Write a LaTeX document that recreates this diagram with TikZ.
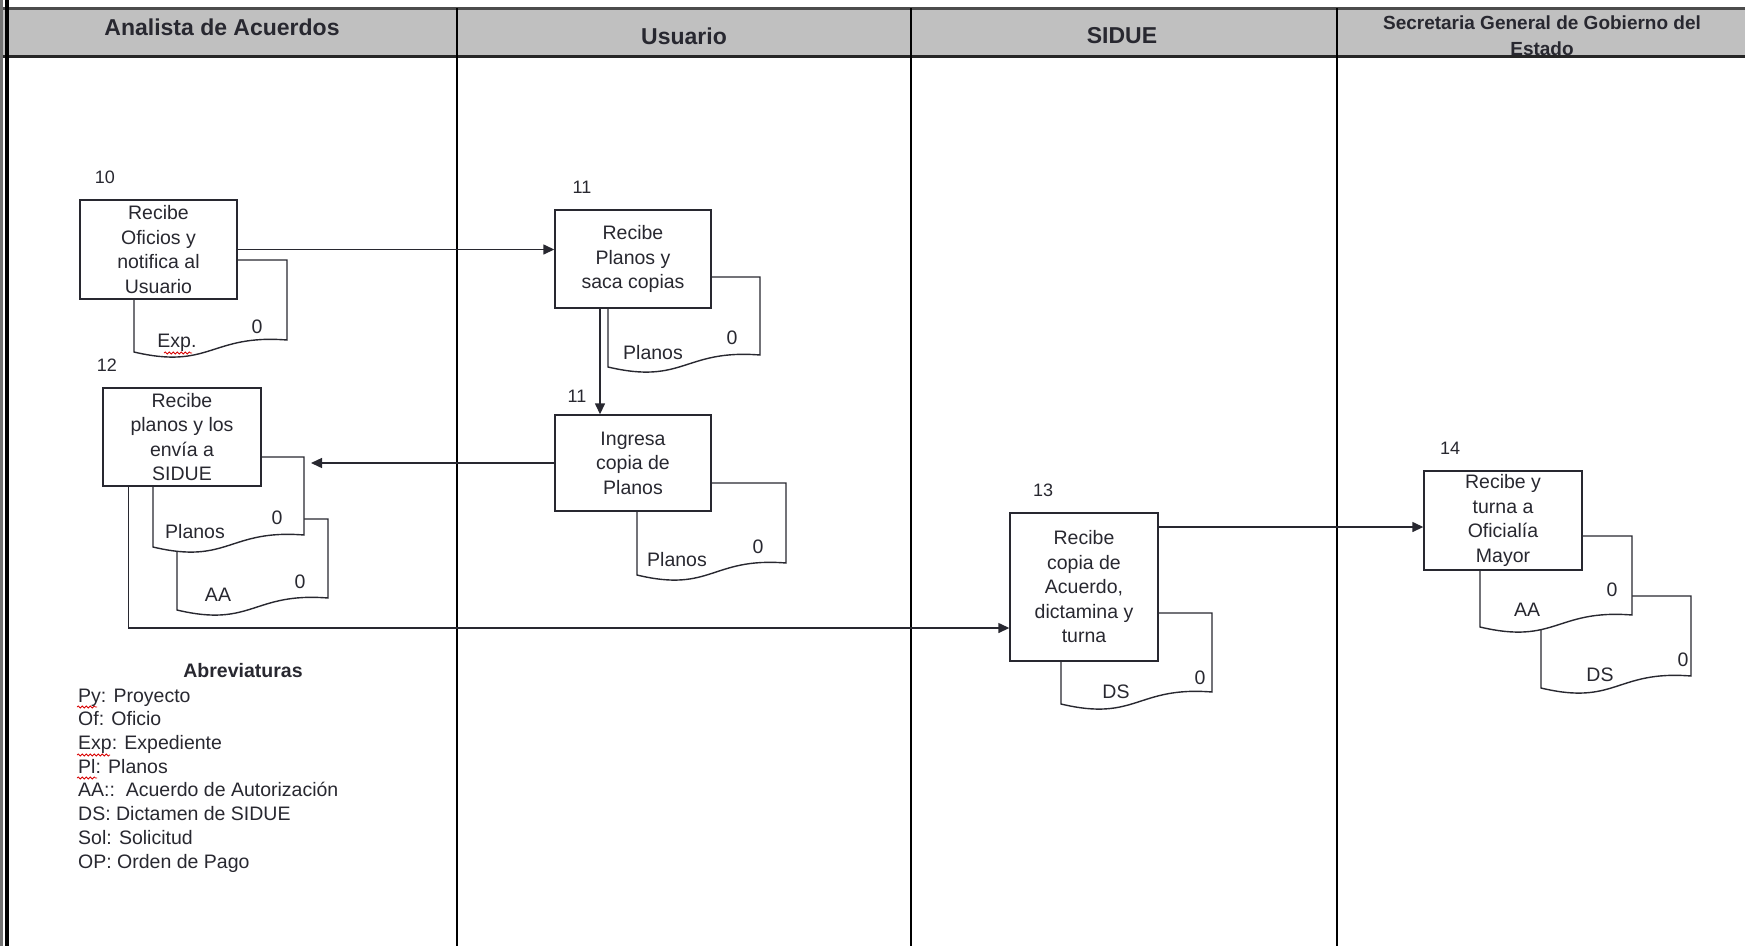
\documentclass[tikz,border=0pt]{standalone}
\usepackage{fontspec}
\setmainfont{Liberation Sans}
\usetikzlibrary{arrows.meta,calc,decorations.pathmorphing}
\definecolor{hdr}{RGB}{192,192,192}
\definecolor{ink}{RGB}{40,40,48}
\newcommand{\bodyfont}{\fontsize{19.5}{24.5}\selectfont}
\newcommand{\numfont}{\fontsize{18}{20}\selectfont}
\newcommand{\hdrfont}{\fontsize{23}{26}\selectfont\bfseries}
\newcommand{\hdrsmall}{\fontsize{19}{26}\selectfont\bfseries}
\newcommand{\docshape}[4]{%
  \draw[docline] (#1,#2) -- (#3,#2) -- (#3,#4) .. controls ({#1+0.5*(#3-#1)},{#4-6}) and ({#1+0.5*(#3-#1)},{#4+30}) .. (#1,{#4+12}) -- cycle;
}
\tikzset{
 boxstyle/.style={draw=ink, line width=1.4pt, fill=white, inner sep=0pt, align=center, font=\bodyfont, text=ink},
 docline/.style={draw=ink, line width=1.4pt, fill=white},
 lbl/.style={font=\bodyfont, text=ink, inner sep=0pt},
 numlbl/.style={font=\numfont, text=ink, inner sep=0pt},
 arr/.style={draw=ink, line width=1.4pt, -{Triangle[length=11pt,width=10pt]}},
 hdrtext/.style={font=\hdrfont, text=ink, inner sep=0pt, align=center},
 abbr/.style={font=\bodyfont, text=ink, anchor=west, inner sep=0pt, text height=14pt, text depth=4pt},
 squig/.style={red!85!black, line width=0.8pt, decorate, decoration={snake, segment length=4pt, amplitude=1pt}},
}
\begin{document}
\begin{tikzpicture}[x=1pt,y=-1pt]
\useasboundingbox (0,0) rectangle (1745,946);
\fill[white] (0,0) rectangle (1745,946);
% header
\fill[hdr] (0,9) rectangle (1745,55);
\draw[line width=3pt, black!70] (0,8) -- (1745,8);
\draw[line width=3pt, black!85] (0,56) -- (1745,56);
\draw[line width=2pt, black] (457,8) -- (457,946);
\draw[line width=2pt, black] (911,8) -- (911,946);
\draw[line width=2pt, black] (1337,8) -- (1337,946);
\draw[line width=3pt, black!55] (1.5,0) -- (1.5,946);
\draw[line width=3.5pt, black] (7,0) -- (7,946);
\node[hdrtext] (h1) at (222,27) {Analista de Acuerdos};
\node[hdrtext] (h2) at (684,36) {Usuario};
\node[hdrtext] (h3) at (1122,36) {SIDUE};
\node[hdrtext, font=\hdrsmall] (h4) at (1542,36) {Secretaria General de Gobierno del\\Estado};

% step 10
\docshape{134}{260}{287}{340}
\node[boxstyle, minimum width=157pt, minimum height=99pt] (b10) at (158.5,249.5) {Recibe\\Oficios y\\notifica al\\Usuario};
\node[numlbl] (n10) at (105,177) {10};
\node[lbl] (d10a) at (177,343) {Exp.};
\node[lbl] (d10b) at (257,327) {0};
\draw[squig] (164,353) -- (192,353);

% step 11a
\docshape{608}{277}{760}{355}
\node[boxstyle, minimum width=156pt, minimum height=98pt] (b11a) at (633,259) {Recibe\\Planos y\\saca copias};
\node[numlbl] (n11a) at (582,187) {11};
\node[lbl] (d11aa) at (653,353) {Planos};
\node[lbl] (d11ab) at (732,338) {0};

% step 11b
\docshape{637}{483}{786}{563}
\node[boxstyle, minimum width=156pt, minimum height=96pt] (b11b) at (633,463) {Ingresa\\copia de\\Planos};
\node[numlbl] (n11b) at (577,396) {11};
\node[lbl] (d11ba) at (677,560) {Planos};
\node[lbl] (d11bb) at (758,547) {0};

% step 12
\docshape{177}{519}{328}{598}
\docshape{153}{457}{304}{535}
\node[boxstyle, minimum width=158pt, minimum height=98pt] (b12) at (182,437) {Recibe\\planos y los\\envía a\\SIDUE};
\node[numlbl] (n12) at (107,365) {12};
\node[lbl] (d12aa) at (195,532) {Planos};
\node[lbl] (d12ab) at (277,518) {0};
\node[lbl] (d12ba) at (218,595) {AA};
\node[lbl] (d12bb) at (300,582) {0};

% step 13
\docshape{1061}{613}{1212}{692}
\node[boxstyle, minimum width=148pt, minimum height=148pt] (b13) at (1084,587) {Recibe\\copia de\\Acuerdo,\\dictamina y\\turna};
\node[numlbl] (n13) at (1043,490) {13};
\node[lbl] (d13a) at (1116,692) {DS};
\node[lbl] (d13b) at (1200,678) {0};

% step 14
\docshape{1541}{596}{1691}{676}
\docshape{1480}{536}{1632}{615}
\node[boxstyle, minimum width=158pt, minimum height=99pt] (b14) at (1503,520.5) {Recibe y\\turna a\\Oficialía\\Mayor};
\node[numlbl] (n14) at (1450,448) {14};
\node[lbl] (d14aa) at (1527,610) {AA};
\node[lbl] (d14ab) at (1612,590) {0};
\node[lbl] (d14ba) at (1600,675) {DS};
\node[lbl] (d14bb) at (1683,660) {0};

% connectors
\draw[arr] (b10.east) -- (b10.east -| b11a.west);
\draw[arr] ($(b11a.south)+(-33,0)$) -- ($(b11b.north)+(-33,0)$);
\coordinate (a12in) at (311,463);
\draw[arr] (b11b.west) -- (a12in);
\draw[arr] ($(b12.south west)+(26,0)$) |- ($(b13.west)+(0,41)$);
\coordinate (a14in) at ($(b14.west)+(0,6.5)$);
\draw[arr] (b13.east |- a14in) -- (a14in);

% abbreviations
\node[lbl, font=\bodyfont\bfseries] (abt) at (243,671) {Abreviaturas};
\node[abbr] (ab1) at (78,697) {Py: Proyecto};
\node[abbr] (ab2) at (78,720.5) {Of: Oficio};
\node[abbr] (ab3) at (78,744.5) {Exp: Expediente};
\node[abbr] (ab4) at (78,768) {Pl: Planos};
\node[abbr] (ab5) at (78,791.5) {AA::\ \ Acuerdo de Autorización};
\node[abbr] (ab6) at (78,815.5) {DS: Dictamen de SIDUE};
\node[abbr] (ab7) at (78,839.5) {Sol: Solicitud};
\node[abbr] (ab8) at (78,863.5) {OP: Orden de Pago};
\draw[squig] (77,707) -- (97,707);
\draw[squig] (77,755) -- (110,755);
\draw[squig] (77,778) -- (97,778);
\end{tikzpicture}
\end{document}
